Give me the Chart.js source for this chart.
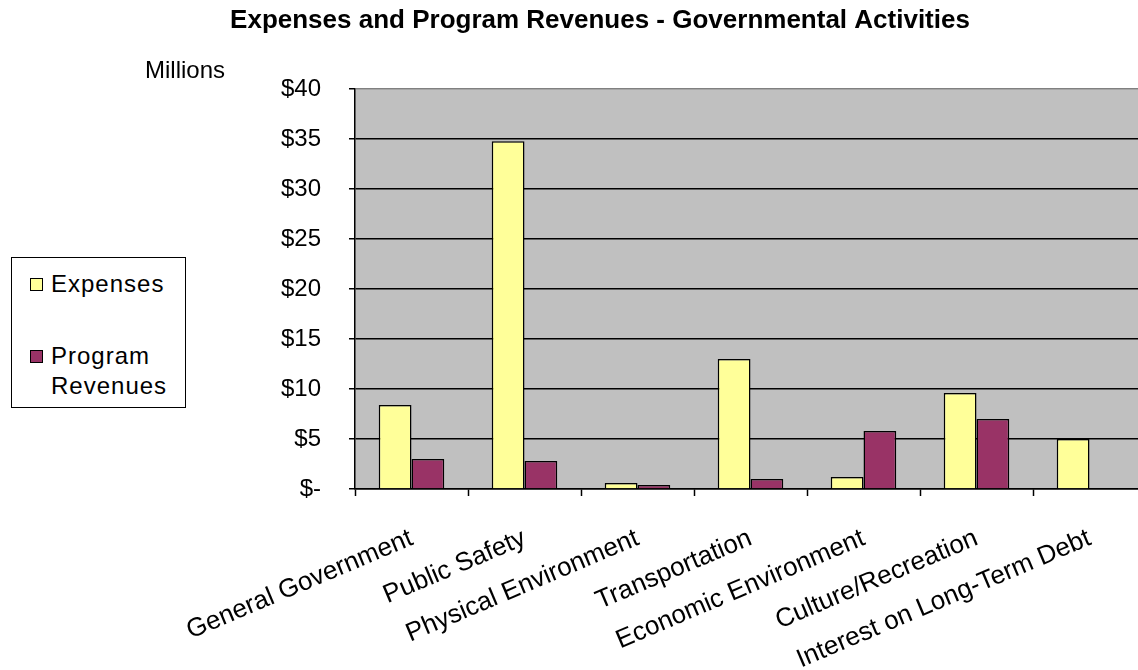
<html>
<head>
<script src="https://cdn.jsdelivr.net/npm/chart.js@4.4.1/dist/chart.umd.min.js"></script>
<style>
    body {
        margin: 0;
        overflow: hidden;
        background: #fff;
        font-family: 'Liberation Sans', Arial, sans-serif;
    }
    #wrap {
        position: relative;
        width: 1146px;
        height: 670px;
    }
    #units {
        position: absolute;
        left: 145px;
        top: 56px;
        font-size: 24px;
        line-height: 28px;
        color: #000;
    }
    #legendBox {
        position: absolute;
        left: 11px;
        top: 257px;
        width: 173px;
        height: 149px;
        border: 1.5px solid #000;
        background: #fff;
    }
    .item {
        position: absolute;
        left: 18px;
        font-size: 24px;
        line-height: 30px;
        letter-spacing: 1px;
        color: #000;
    }
    .swatch {
        position: absolute;
        left: 0;
        top: 9px;
        width: 11px;
        height: 11px;
        border: 1.5px solid #000;
    }
    .item span {
        display: block;
        margin-left: 21px;
    }
</style>
</head>
<body>
<div id="wrap">
    <canvas id="myChart" width="1146" height="670"></canvas>
    <div id="units">Millions</div>
    <div id="legendBox"></div>
</div>

<script>
    // values in millions of dollars
    var categories = ['General Government', 'Public Safety', 'Physical Environment', 'Transportation',
        'Economic Environment', 'Culture/Recreation', 'Interest on Long-Term Debt'];
    var expenses = [8.4, 34.8, 0.6, 13.0, 1.2, 9.6, 5.0];
    var programRevenues = [3.0, 2.8, 0.4, 1.0, 5.8, 7.0, 0];
    var seriesNames = ['Expenses', 'Program Revenues'];
    var seriesColors = ['#FFFF99', '#993366'];
    var yMax = 40;
    var yStep = 5;

    function moneyLabel(v) {
        return v === 0 ? '$-' : '$' + v;
    }

    Chart.defaults.font.family = "'Liberation Sans', Arial, sans-serif";
    Chart.defaults.font.size = 24;
    Chart.defaults.color = '#000';

    // grey plot area behind the bars
    var plotBackground = {
        id: 'plotBackground',
        beforeDraw: function (chart) {
            var a = chart.chartArea;
            var ctx = chart.ctx;
            ctx.save();
            ctx.fillStyle = '#C0C0C0';
            ctx.fillRect(a.left, a.top, a.right - a.left, a.bottom - a.top);
            ctx.restore();
        }
    };

    var ctx = document.getElementById('myChart');

    var lineChart = new Chart(ctx, {
        type: 'bar',
        data: {
            labels: categories,
            datasets: [
                {
                    label: seriesNames[0],
                    data: expenses,
                    backgroundColor: seriesColors[0],
                    borderColor: '#000',
                    borderWidth: 1.5,
                    borderSkipped: 'start'
                },
                {
                    label: seriesNames[1],
                    data: programRevenues,
                    backgroundColor: seriesColors[1],
                    borderColor: '#000',
                    borderWidth: 1.5,
                    borderSkipped: 'start'
                }
            ]
        },
        options: {
            responsive: false,
            animation: false,
            layout: {
                padding: { left: 54, right: 0, top: 0, bottom: 0 }
            },
            datasets: {
                bar: {
                    barPercentage: 1,
                    categoryPercentage: 0.58
                }
            },
            plugins: {
                legend: { display: false },
                tooltip: { enabled: false },
                title: {
                    display: true,
                    text: 'Expenses and Program Revenues - Governmental Activities',
                    font: { size: 26, weight: 'bold' },
                    color: '#000',
                    padding: { top: 5, bottom: 53 }
                }
            },
            scales: {
                y: {
                    min: 0,
                    max: yMax,
                    afterFit: function (scale) {
                        scale.width = 301;
                    },
                    ticks: {
                        stepSize: yStep,
                        padding: 28,
                        callback: function (value) {
                            return moneyLabel(value);
                        }
                    },
                    grid: {
                        color: function (c) {
                            return c.tick && c.tick.value === yMax ? '#808080' : '#000';
                        },
                        lineWidth: 1.5,
                        tickLength: 6,
                        tickColor: '#000'
                    },
                    border: { color: '#000', width: 1.5 }
                },
                x: {
                    afterFit: function (scale) {
                        scale.height = 181;
                    },
                    ticks: {
                        autoSkip: false,
                        minRotation: 23,
                        maxRotation: 23,
                        padding: 27,
                        font: { size: 26 }
                    },
                    grid: {
                        offset: true,
                        drawOnChartArea: false,
                        drawTicks: true,
                        tickLength: 7,
                        tickColor: '#000',
                        tickWidth: 1.5
                    },
                    border: { color: '#000', width: 1.5 }
                }
            }
        },
        plugins: [plotBackground]
    });

    // legend box built from the datasets
    var box = document.getElementById('legendBox');
    var tops = [11, 83];
    lineChart.data.datasets.forEach(function (ds, i) {
        var item = document.createElement('div');
        item.className = 'item';
        item.style.top = tops[i] + 'px';
        var sw = document.createElement('div');
        sw.className = 'swatch';
        sw.style.background = ds.backgroundColor;
        item.appendChild(sw);
        ds.label.split(' ').forEach(function (w) {
            var s = document.createElement('span');
            s.textContent = w;
            item.appendChild(s);
        });
        box.appendChild(item);
    });
</script>
</body>
</html>
